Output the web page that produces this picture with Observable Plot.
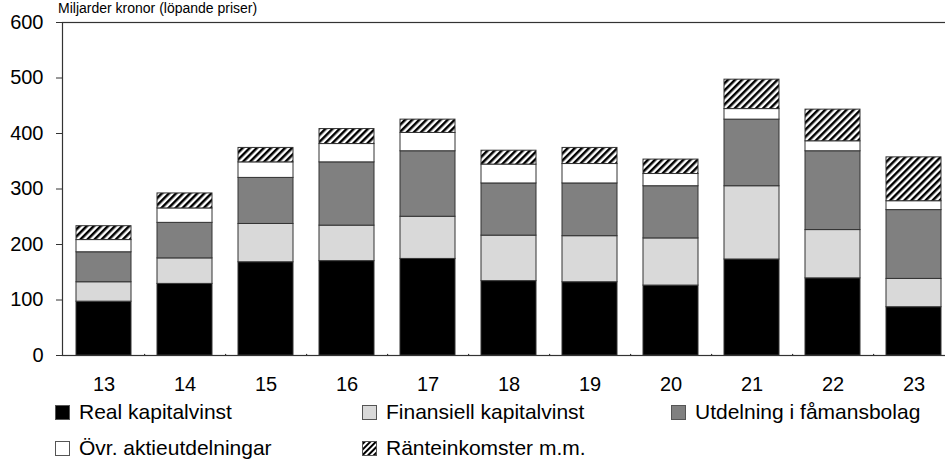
<!DOCTYPE html>
<html><head><meta charset="utf-8">
<script src="https://cdn.jsdelivr.net/npm/d3@7"></script>
<script src="https://cdn.jsdelivr.net/npm/@observablehq/plot@0.6"></script>
<style>
body{margin:0;background:#fff;font-family:Arial,"Liberation Sans",sans-serif;}
#wrap{position:relative;width:945px;height:459px;overflow:hidden;background:#fff;}
#chart{position:absolute;left:0;top:0;}
#title{position:absolute;left:58px;top:0px;font-size:14px;line-height:16px;white-space:nowrap;color:#000;}
.leg{position:absolute;font-size:21px;height:24px;line-height:24px;display:flex;align-items:center;white-space:nowrap;color:#000;}
.sw{width:15px;height:15px;border:1px solid #555;box-sizing:border-box;margin-right:9px;flex:none;}
</style></head><body>
<div id="wrap"><div id="chart"></div><div id="title">Miljarder kronor (löpande priser)</div><div id="legend"></div></div>
<script>
const years = ["13","14","15","16","17","18","19","20","21","22","23"];
const series = ["Real kapitalvinst","Finansiell kapitalvinst","Utdelning i fåmansbolag","Övr. aktieutdelningar","Ränteinkomster m.m."];
const realKapitalvinst       = [97,129,168,170,174,134,132,126,173,139,87];
const finansiellKapitalvinst = [35,46,69,64,76,82,83,85,132,87,51];
const utdelningFamansbolag   = [54,64,83,114,118,94,95,94,120,142,124];
const ovrAktieutdelningar    = [22,26,28,33,33,34,35,22,19,18,16];
const ranteinkomster         = [25,27,26,27,24,25,29,26,53,57,79];
const yTicks = [0,100,200,300,400,500,600];
const seriesFill = ["#000000","#d9d9d9","#808080","#ffffff","url(#hatch)"];

const cols = [realKapitalvinst, finansiellKapitalvinst, utdelningFamansbolag, ovrAktieutdelningar, ranteinkomster];
const data = years.flatMap((y, i) => series.map((s, j) => ({year: y, series: s, value: cols[j][i]})));

const W = 945, ML = 62, MR = -10;
const step = (W - MR - ML) / years.length;

const plot = Plot.plot({
  width: W, height: 395,
  marginLeft: ML, marginRight: MR, marginTop: 22, marginBottom: 40,
  style: {fontFamily: "Arial, 'Liberation Sans', sans-serif", fontSize: "20px", color: "#000", background: "#fff", overflow: "hidden"},
  x: {domain: years, paddingInner: 0.32, paddingOuter: 0.16, label: null},
  y: {domain: [0, 600], label: null},
  color: {domain: series, range: seriesFill},
  marks: [
    Plot.barY(data, {x: "year", y: "value", fill: "series", stroke: "#333", strokeWidth: 1, order: series}),
    Plot.frame({stroke: "#333", strokeWidth: 1.2}),
    Plot.axisY({ticks: yTicks, tickSize: 6, tickPadding: 13, label: null, stroke: "#333"}),
    Plot.axisX({tickSize: 0, tickPadding: 21, label: null}),
    Plot.ruleX(years.slice(0, -1), {x: d => d, y1: 0, y2: 11, insetBottom: -5, dx: step / 2, stroke: "#333", strokeWidth: 1.2})
  ]
});

const ns = "http://www.w3.org/2000/svg";
const defs = document.createElementNS(ns, "defs");
defs.innerHTML = `<pattern id="hatch" patternUnits="userSpaceOnUse" width="5" height="5" patternTransform="rotate(45)"><rect width="5" height="5" fill="#fff"/><rect width="2.5" height="5" fill="#000"/></pattern>`;
plot.insertBefore(defs, plot.firstChild);
document.getElementById("chart").appendChild(plot);

// legend
const legPos = [[55, 400], [362, 400], [671, 400], [55, 436], [362, 436]];
const legend = document.getElementById("legend");
series.forEach((s, j) => {
  const d = document.createElement("div");
  d.className = "leg";
  d.style.left = legPos[j][0] + "px";
  d.style.top = legPos[j][1] + "px";
  const sw = document.createElement("span");
  sw.className = "sw";
  if (j === 4) {
    sw.innerHTML = `<svg width="13" height="13" style="display:block"><defs><pattern id="hatchL" patternUnits="userSpaceOnUse" width="4" height="4" patternTransform="rotate(45)"><rect width="4" height="4" fill="#fff"/><rect width="2" height="4" fill="#000"/></pattern></defs><rect width="13" height="13" fill="url(#hatchL)"/></svg>`;
  } else {
    sw.style.background = seriesFill[j];
  }
  d.appendChild(sw);
  d.appendChild(document.createTextNode(s));
  legend.appendChild(d);
});
</script>
</body></html>
